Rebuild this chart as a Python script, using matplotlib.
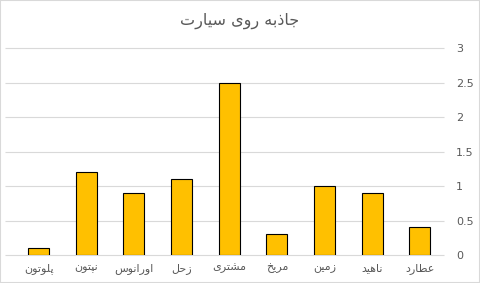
import matplotlib
matplotlib.use('Agg')
import matplotlib.pyplot as plt
from matplotlib.patches import Rectangle

# داده‌ها (از راست به چپ در نمودار)
planets = ['عطارد', 'ناهید', 'زمین', 'مریخ', 'مشتری', 'زحل', 'اورانوس', 'نپتون', 'پلوتون']
gravity = [0.4, 0.9, 1.0, 0.3, 2.5, 1.1, 0.9, 1.2, 0.1]
title = 'جاذبه روی سیارت'
yticks = [0, 0.5, 1, 1.5, 2, 2.5, 3]

# isolated, final, initial, medial
forms = {
    'ا': ('\uFE8D', '\uFE8E', None, None),
    'ب': ('\uFE8F', '\uFE90', '\uFE91', '\uFE92'),
    'پ': ('\uFB56', '\uFB57', '\uFB58', '\uFB59'),
    'ت': ('\uFE95', '\uFE96', '\uFE97', '\uFE98'),
    'ج': ('\uFE9D', '\uFE9E', '\uFE9F', '\uFEA0'),
    'ح': ('\uFEA1', '\uFEA2', '\uFEA3', '\uFEA4'),
    'خ': ('\uFEA5', '\uFEA6', '\uFEA7', '\uFEA8'),
    'د': ('\uFEA9', '\uFEAA', None, None),
    'ذ': ('\uFEAB', '\uFEAC', None, None),
    'ر': ('\uFEAD', '\uFEAE', None, None),
    'ز': ('\uFEAF', '\uFEB0', None, None),
    'س': ('\uFEB1', '\uFEB2', '\uFEB3', '\uFEB4'),
    'ش': ('\uFEB5', '\uFEB6', '\uFEB7', '\uFEB8'),
    'ط': ('\uFEC1', '\uFEC2', '\uFEC3', '\uFEC4'),
    'ع': ('\uFEC9', '\uFECA', '\uFECB', '\uFECC'),
    'ل': ('\uFEDD', '\uFEDE', '\uFEDF', '\uFEE0'),
    'م': ('\uFEE1', '\uFEE2', '\uFEE3', '\uFEE4'),
    'ن': ('\uFEE5', '\uFEE6', '\uFEE7', '\uFEE8'),
    'ه': ('\uFEE9', '\uFEEA', '\uFEEB', '\uFEEC'),
    'و': ('\uFEED', '\uFEEE', None, None),
    'ی': ('\uFBFC', '\uFBFD', '\uFBFE', '\uFBFF'),
}


def shape(word):
    out = []
    for i, ch in enumerate(word):
        if ch not in forms:
            out.append(ch)
            continue
        prev = word[i - 1] if i > 0 else None
        nxt = word[i + 1] if i + 1 < len(word) else None
        join_prev = prev in forms and forms[prev][2] is not None
        join_next = nxt in forms and forms[ch][2] is not None
        iso, fin, ini, med = forms[ch]
        if join_prev and join_next:
            out.append(med)
        elif join_prev:
            out.append(fin)
        elif join_next:
            out.append(ini)
        else:
            out.append(iso)
    return ''.join(out)


def rtl(text):
    return ' '.join(shape(w)[::-1] for w in text.split(' ')[::-1])


plt.rcParams['font.family'] = ['DejaVu Sans']

fig = plt.figure(figsize=(4.8, 2.83), dpi=100)
ax = fig.add_axes([0.031, 0.099, 0.893, 0.731])

x = list(range(len(planets)))
ax.bar(x, gravity, width=0.44, color='#FFC000', edgecolor='black', linewidth=0.8, zorder=3)

ax.set_xlim(-0.5, len(planets) - 0.5)
ax.invert_xaxis()
ax.set_ylim(0, 3)
ax.set_yticks(yticks)
ax.set_yticklabels([f'{v:g}' for v in yticks], fontsize=8, color='#595959')
ax.yaxis.tick_right()
ax.set_xticks(x)
ax.set_xticklabels([rtl(p) for p in planets], fontsize=8, color='#595959')
ax.tick_params(length=0, pad=6)
ax.tick_params(axis='y', pad=9)
# خطوط شبکه کمی از سمت چپ بیرون می‌زنند
ax.hlines(yticks, -0.022, 1, transform=ax.get_yaxis_transform(), color='#D9D9D9',
          linewidth=0.8, zorder=0, clip_on=False)
for s in ['top', 'left', 'right', 'bottom']:
    ax.spines[s].set_visible(False)

fig.text(0.5, 0.925, rtl(title), ha='center', va='center', fontsize=11.5, color='#595959')
fig.patches.append(Rectangle((0, 0), 1, 1, transform=fig.transFigure, fill=False,
                             edgecolor='#D9D9D9', linewidth=1.5))

fig.savefig('out.png', dpi=100)
